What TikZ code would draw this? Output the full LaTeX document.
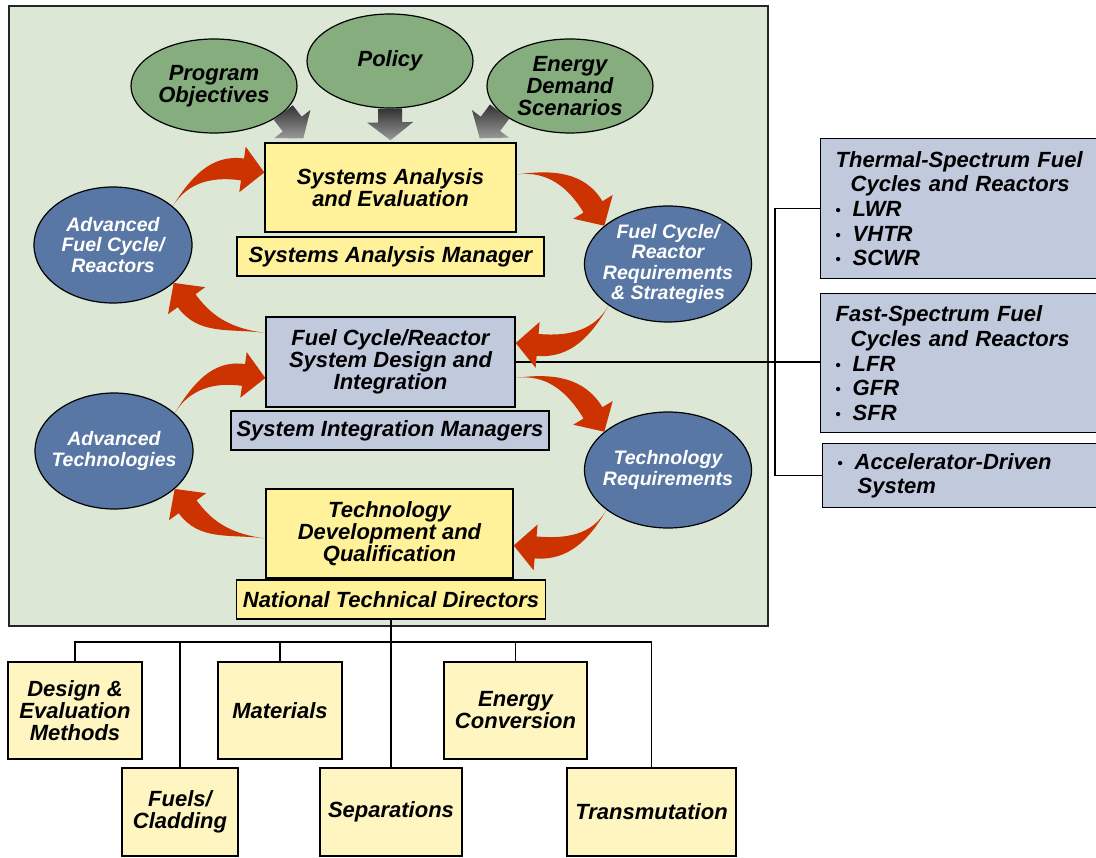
\documentclass[tikz,border=0pt]{standalone}
\usepackage{fontspec}
\setmainfont{Liberation Sans}
\usetikzlibrary{shapes.geometric,calc}

\definecolor{panelgreen}{HTML}{DCE7D6}
\definecolor{ovalgreen}{HTML}{86AD7E}
\definecolor{ovalblue}{HTML}{5977A5}
\definecolor{boxyellow}{HTML}{FFF29A}
\definecolor{boxblue}{HTML}{C1C9DD}
\definecolor{paleyellow}{HTML}{FEF5C1}
\definecolor{arrowred}{HTML}{CC3300}

\newcommand\itembullet{\makebox[17pt][l]{\fontsize{15}{15}\selectfont\upshape\raisebox{1pt}{•}}}

% tapered curved block arrow: start, out angle, tip, heading at tip
\newcommand\redarrow[4]{%
  \pgfmathsetmacro\rkback{#4+180}%
  \pgfmathsetmacro\rkleft{#4+90}%
  \pgfmathsetmacro\rkright{#4-90}%
  \coordinate (rs) at (#1);
  \coordinate (rt) at (#3);
  \coordinate (hb) at ($(rt)+(\rkback:22)$);
  \fill[arrowred] (rs) to[out=#2,in=\rkback] ($(hb)+(\rkleft:11)$) -- ($(hb)+(\rkleft:23)$) -- (rt)
    -- ($(hb)+(\rkright:23)$) -- ($(hb)+(\rkright:11)$) to[out=\rkback,in=#2] (rs) -- cycle;}

% straight shaded block arrow: start, tip
\newcommand\greyarrow[2]{%
  \coordinate (gs) at (#1);
  \coordinate (gt) at (#2);
  \coordinate (gh) at ($(gt)!18pt!(gs)$);
  \shade[top color=black!80,bottom color=black!40]
    ($(gs)!12pt!90:(gt)$) -- ($(gh)!12pt!90:(gt)$) -- ($(gh)!23pt!90:(gt)$) -- (gt)
    -- ($(gh)!23pt!-90:(gt)$) -- ($(gh)!12pt!-90:(gt)$) -- ($(gs)!12pt!-90:(gt)$) -- cycle;}

\begin{document}
\begin{tikzpicture}[x=1pt,y=1pt,line join=miter]
  \tikzstyle{txt}=[font=\fontsize{22}{22}\selectfont\bfseries\itshape,align=center,inner sep=0pt]
  \tikzstyle{ybox}=[txt,draw,line width=1.4pt,fill=boxyellow]
  \tikzstyle{bbox}=[txt,draw,line width=1.4pt,fill=boxblue]
  \tikzstyle{pbox}=[txt,draw,line width=1.2pt,fill=paleyellow]
  \tikzstyle{goval}=[txt,ellipse,draw,line width=1.2pt,fill=ovalgreen,inner sep=-10pt,minimum width=166pt,minimum height=94pt]
  \tikzstyle{boval}=[txt,ellipse,draw,line width=1.2pt,fill=ovalblue,text=white,font=\fontsize{19.5}{20.5}\selectfont\bfseries\itshape,inner sep=-10pt,minimum height=116pt]
  \tikzstyle{side}=[bbox,anchor=north west,align=left,text width=250pt,inner xsep=15pt,font=\fontsize{22}{24.7}\selectfont\bfseries\itshape]
  \tikzstyle{wire}=[line width=1.4pt]

  \useasboundingbox (0,0) rectangle (1096,-858);
  \draw[line width=1.4pt,draw=black!85,fill=panelgreen] (9,-6) rectangle (768,-626);

  \node[goval] (po)  at (214,-86) {Program\\Objectives};
  \node[goval] (pol) at (390,-61) {Policy};
  \node[goval] (eds) at (570,-86) {Energy\\Demand\\Scenarios};

  \node[ybox,minimum width=251pt,minimum height=89pt] (sae) at (390.5,-187.5) {Systems Analysis\\and Evaluation};
  \node[ybox,minimum width=307pt,minimum height=39pt] (sam) at (390.5,-256.5) {Systems Analysis Manager};
  \node[bbox,minimum width=249pt,minimum height=90pt] (fcs) at (390.5,-362) {Fuel Cycle/Reactor\\System Design and\\Integration};
  \node[bbox,minimum width=318pt,minimum height=39pt] (sim) at (390,-430.5) {System Integration Managers};
  \node[ybox,minimum width=247pt,minimum height=89pt] (tdq) at (389.5,-533.5) {Technology\\Development and\\Qualification};
  \node[ybox,minimum width=309pt,minimum height=39pt] (ntd) at (391,-599.5) {National Technical Directors};

  \node[boval,minimum width=158pt] (afc)  at (113,-245) {Advanced\\Fuel Cycle/\\Reactors};
  \node[boval,minimum width=167pt] (req)  at (668,-264) {Fuel Cycle/\\Reactor\\Requirements\\\& Strategies};
  \node[boval,minimum width=158pt] (atc)  at (114,-451) {Advanced\\Technologies};
  \node[boval,minimum width=167pt] (treq) at (668,-470) {Technology\\Requirements};

  \node[side,minimum height=140pt] (tsr) at (820,-138) {Thermal-Spectrum Fuel\\\hspace*{15pt}Cycles and Reactors\\\itembullet LWR\\\itembullet VHTR\\\itembullet SCWR};
  \node[side,minimum height=139pt] (fsr) at (820,-293) {Fast-Spectrum Fuel\\\hspace*{15pt}Cycles and Reactors\\\itembullet LFR\\\itembullet GFR\\\itembullet SFR};
  \node[side,minimum height=64pt]  (ads) at (822,-443) {\itembullet Accelerator-Driven\\\hspace*{20pt}System};

  \node[pbox,minimum width=134pt,minimum height=97pt] (dem) at (75,-710.5) {Design \&\\Evaluation\\Methods};
  \node[pbox,minimum width=124pt,minimum height=97pt] (mat) at (280,-710.5) {Materials};
  \node[pbox,minimum width=143pt,minimum height=97pt] (enc) at (515.5,-710.5) {Energy\\Conversion};
  \node[pbox,minimum width=116pt,minimum height=88pt] (fcl) at (180,-812) {Fuels/\\Cladding};
  \node[pbox,minimum width=142pt,minimum height=88pt] (sep) at (391,-812) {Separations};
  \node[pbox,minimum width=169pt,minimum height=88pt] (trm) at (651.5,-812) {Transmutation};

  \coordinate (bus) at (391,-642);
  \coordinate (jn) at (775,-362);
  \draw[wire] (ntd.south) -- (sep.north);
  \foreach \n in {dem,fcl,mat,enc,trm}
    \draw[wire] (\n.north) |- (bus);
  \draw[wire] (fcs.east) -- (fcs.east -| fsr.west);
  \draw[wire] (tsr.west) -| (jn) |- (ads.west);

  \greyarrow{po.-21}{$(sae.north west)+(39,4)$}
  \greyarrow{pol.south}{$(sae.north)+(0,2)$}
  \greyarrow{eds.200}{$(sae.north east)+(-37,4)$}

  \redarrow{afc.33}{58}{$(sae.west)+(0,15)$}{-8}
  \redarrow{$(sae.east)+(0,13)$}{8}{req.149}{-59}
  \redarrow{req.215}{240}{$(fcs.east)+(0,19)$}{175}
  \redarrow{$(fcs.west)+(0,29)$}{172}{afc.-32}{126}
  \redarrow{atc.32}{58}{$(fcs.west)+(0,-16)$}{-8}
  \redarrow{$(fcs.east)+(0,-16)$}{8}{treq.149}{-59}
  \redarrow{treq.213}{240}{$(tdq.east)+(0,-12)$}{175}
  \redarrow{$(tdq.west)+(0,-5)$}{172}{atc.-32}{126}
\end{tikzpicture}
\end{document}
